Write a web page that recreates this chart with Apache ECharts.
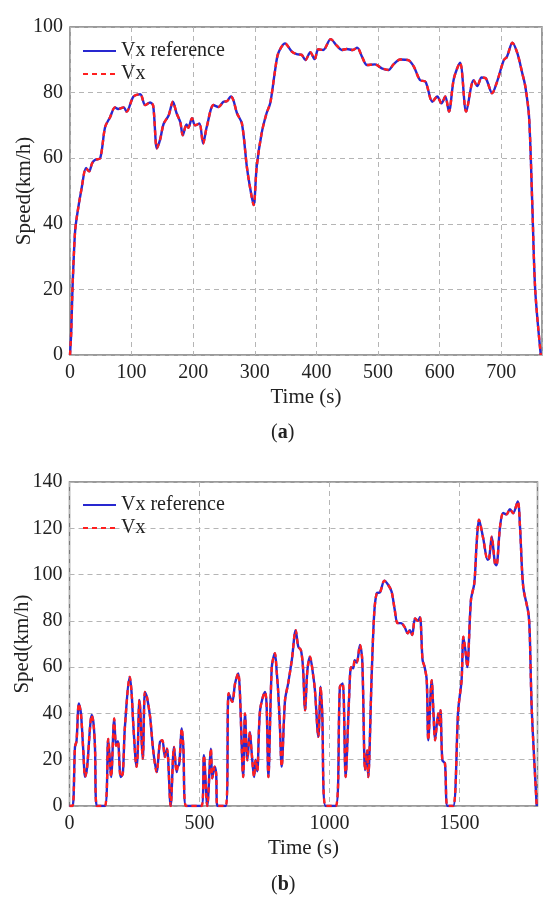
<!DOCTYPE html>
<html style="height: 100%">
<head>
    <meta charset="utf-8">
    <title>Vx reference vs Vx</title>
    <script type="text/javascript" src="https://cdn.jsdelivr.net/npm/echarts@6/dist/echarts.min.js"></script>
</head>
<body style="height: 100%; margin: 0; background: #fff">
    <div id="container" style="width: 550px; height: 902px"></div>
    <script type="text/javascript">
        // (a) speed trace, time in s, speed in km/h
        var timeA = [0, 2, 4, 8, 11, 19, 26, 31, 36, 41, 49, 57, 65, 73, 78, 87, 92, 103, 114, 122, 130, 135,
            141, 146, 152, 160, 167, 173, 179, 183, 189, 192, 198, 203, 210, 216, 222, 233, 241, 249, 255,
            261, 265, 271, 279, 287, 292, 298, 303, 311, 319, 325, 333, 338, 349, 360, 368, 376, 382, 390,
            397, 403, 411, 423, 433, 441, 449, 459, 466, 474, 482, 495, 506, 517, 525, 536, 549, 558, 568,
            577, 588, 596, 603, 609, 615, 623, 633, 643, 655, 661, 668, 675, 685, 693, 704, 709, 718, 726,
            734, 739, 745, 750, 755, 764];
        var speedA = [0, 7, 20, 37, 42, 51, 57, 56, 58.5, 59.5, 60, 69.5, 72.5, 75.5, 75, 75.5, 74.2, 78.8, 79.5,
            76.2, 77, 76, 63, 65.5, 70.5, 73, 77.2, 73.7, 71, 67, 70.3, 69.3, 72.2, 70, 70.6, 64.5, 69.6,
            76.2, 75.6, 77.2, 77.4, 78.8, 77.8, 73.7, 70.6, 57.4, 51.3, 45.7, 57.4, 67.6, 73.7, 76.8, 87,
            92, 95, 92.5, 91.7, 91.5, 89.9, 92.3, 90.2, 93.2, 93, 96.3, 94.3, 93, 93.3, 93, 93.7, 90.9,
            88.4, 88.6, 87.4, 86.9, 88.6, 90.1, 89.9, 87.9, 83.8, 83.3, 77.2, 78.8, 76.7, 78.8, 74.2, 84.3,
            89.1, 74.2, 83.8, 82, 84.6, 84.3, 79.8, 83.3, 89.9, 90.9, 95.2, 92, 85.9, 81.8, 72.6, 47.3,
            19.8, 0];

        // (b) speed trace
        var timeB = [0, 12, 21, 27, 36, 44, 53, 60, 68, 79, 85, 92, 98, 105, 136, 149, 160, 172, 179, 186, 197,
            205, 213, 232, 239, 246, 258, 262, 269, 282, 290, 298, 310, 322, 335, 348, 357, 367, 375, 389,
            402, 412, 416, 422, 432, 438, 448, 508, 517, 530, 544, 549, 558, 564, 569, 601, 612, 626, 637,
            649, 655, 668, 675, 684, 694, 700, 710, 716, 722, 733, 752, 758, 765, 778, 790, 797, 803, 809,
            816, 829, 841, 855, 870, 880, 890, 898, 906, 915, 925, 938, 944, 957, 966, 972, 985, 1024,
            1040, 1051, 1062, 1075, 1083, 1091, 1097, 1105, 1117, 1126, 1137, 1145, 1149, 1162, 1172, 1182,
            1194, 1211, 1226, 1239, 1251, 1262, 1275, 1288, 1301, 1309, 1318, 1329, 1340, 1348, 1358, 1366,
            1374, 1380, 1393, 1400, 1406, 1418, 1423, 1427, 1434, 1444, 1454, 1476, 1495, 1508, 1515, 1524,
            1530, 1544, 1557, 1566, 1575, 1591, 1608, 1614, 1624, 1636, 1642, 1656, 1668, 1681, 1694, 1706,
            1724, 1733, 1745, 1765, 1770, 1778, 1797];
        var speedB = [0, 0, 25.5, 28, 44.3, 40, 24, 12.6, 17, 34, 39.3, 36, 25.5, 0, 0, 29, 12.5, 37.8, 26, 28,
            12.5, 14, 34, 55.8, 48.6, 34, 16.9, 22, 45.8, 20.5, 49.3, 47, 38.5, 24, 14.7, 27.7, 28.4, 21.2,
            24.8, 0, 25.5, 14.7, 17, 18, 33.5, 25, 0, 0, 22, 0, 24.8, 12, 17, 14, 0, 0, 48.7, 45, 53, 57.3,
            50, 12.5, 40, 19.8, 32, 24, 12.5, 20, 15, 41.4, 49.3, 44, 12.5, 60, 66, 58, 48.7, 35, 17, 45.8,
            53, 63, 76, 68.8, 67.4, 60, 41.4, 58.7, 64.5, 55.8, 50, 29.9, 51.5, 40, 0, 0, 51.5, 53, 12.5,
            45.8, 60, 59.5, 63, 62, 69.6, 63, 15.5, 24, 12.5, 55.8, 83.3, 92, 92.3, 97.4, 95.5, 92.6, 84.7,
            79, 79, 77.5, 74.6, 76, 73.9, 81, 80, 81.6, 63, 60, 54.4, 28.4, 54.4, 40, 28.4, 40, 35, 41.4,
            19.8, 18.4, 0, 0, 41.4, 54.4, 73.2, 66, 60, 89, 96.3, 113.6, 123.7, 115.8, 106.4, 107, 116.4,
            105, 104, 120.8, 126.6, 126, 128.3, 126.5, 131.6, 120, 94.8, 83.3, 75, 41.4, 0];

        var seriesNames = ['Vx reference', 'Vx'];

        function pairs(t, v) {
            return t.map(function (x, i) { return [x, v[i]]; });
        }

        var dom = document.getElementById("container");
        var myChart = echarts.init(dom);
        var font = 'Liberation Serif';
        var textCol = '#222';

        function xAxisFor(idx, max, interval) {
            return {
                gridIndex: idx, type: 'value', min: 0, max: max, interval: interval,
                name: 'Time (s)', nameLocation: 'middle', nameGap: 32,
                nameTextStyle: { fontFamily: font, fontSize: 21, color: textCol },
                axisLine: { show: false },
                axisTick: { show: false },
                axisLabel: {
                    fontFamily: font, fontSize: 20, color: textCol, margin: 8, showMaxLabel: false,
                    formatter: function (v) { return String(v); }
                },
                splitLine: { lineStyle: { color: '#b5b5b5', type: [5, 4], width: 1 } }
            };
        }
        function yAxisFor(idx, max, name, gap) {
            return {
                gridIndex: idx, type: 'value', min: 0, max: max, interval: 20,
                name: name, nameLocation: 'middle', nameGap: gap, nameMoveOverlap: false,
                nameTextStyle: { fontFamily: font, fontSize: 21, color: textCol },
                axisLine: { show: false },
                axisTick: { show: false },
                axisLabel: { fontFamily: font, fontSize: 20, color: textCol, margin: 7 },
                splitLine: { lineStyle: { color: '#b5b5b5', type: [5, 4], width: 1 } }
            };
        }
        function lineSeries(name, idx, data, dashed) {
            return {
                name: name, type: 'line', xAxisIndex: idx, yAxisIndex: idx,
                data: data, symbol: 'none', smooth: 0.3, animation: false,
                lineStyle: dashed ? { color: '#ff1f1f', width: 2.4, type: [5, 4] }
                                  : { color: '#2828d0', width: 2.4 },
                itemStyle: { color: dashed ? '#ff1f1f' : '#2828d0' }
            };
        }
        function legendFor(top) {
            return {
                orient: 'vertical', left: 77, top: top, data: seriesNames,
                itemWidth: 33, itemHeight: 10, itemGap: 3,
                itemStyle: { color: 'transparent', borderColor: 'transparent', borderWidth: 0 },
                textStyle: { fontFamily: font, fontSize: 20, color: textCol },
                selectedMode: false
            };
        }

        var option = {
            backgroundColor: '#fff',
            animation: false,
            grid: [
                { left: 70, right: 8, top: 27, height: 328, show: true, borderColor: '#7a7a7a', borderWidth: 1.5 },
                { left: 69.5, right: 12.5, top: 482, height: 324, show: true, borderColor: '#7a7a7a', borderWidth: 1.5 }
            ],
            xAxis: [xAxisFor(0, 766, 100), xAxisFor(1, 1800, 500)],
            yAxis: [yAxisFor(0, 100, 'Speed(km/h)', 35), yAxisFor(1, 140, 'Sped(km/h)', 37)],
            legend: [legendFor(36), legendFor(490)],
            title: [
                { text: '({b|a})', left: 266, top: 418,
                  textStyle: { fontFamily: font, fontSize: 20, fontWeight: 'normal', color: textCol,
                      rich: { b: { fontFamily: font, fontSize: 20, fontWeight: 'bold', color: textCol } } } },
                { text: '({b|b})', left: 266, top: 870,
                  textStyle: { fontFamily: font, fontSize: 20, fontWeight: 'normal', color: textCol,
                      rich: { b: { fontFamily: font, fontSize: 20, fontWeight: 'bold', color: textCol } } } }
            ],
            series: [
                lineSeries(seriesNames[0], 0, pairs(timeA, speedA), false),
                lineSeries(seriesNames[1], 0, pairs(timeA, speedA), true),
                lineSeries(seriesNames[0], 1, pairs(timeB, speedB), false),
                lineSeries(seriesNames[1], 1, pairs(timeB, speedB), true)
            ]
        };
        if (option && typeof option === "object") {
            myChart.setOption(option, true);
        }
    </script>
</body>
</html>
